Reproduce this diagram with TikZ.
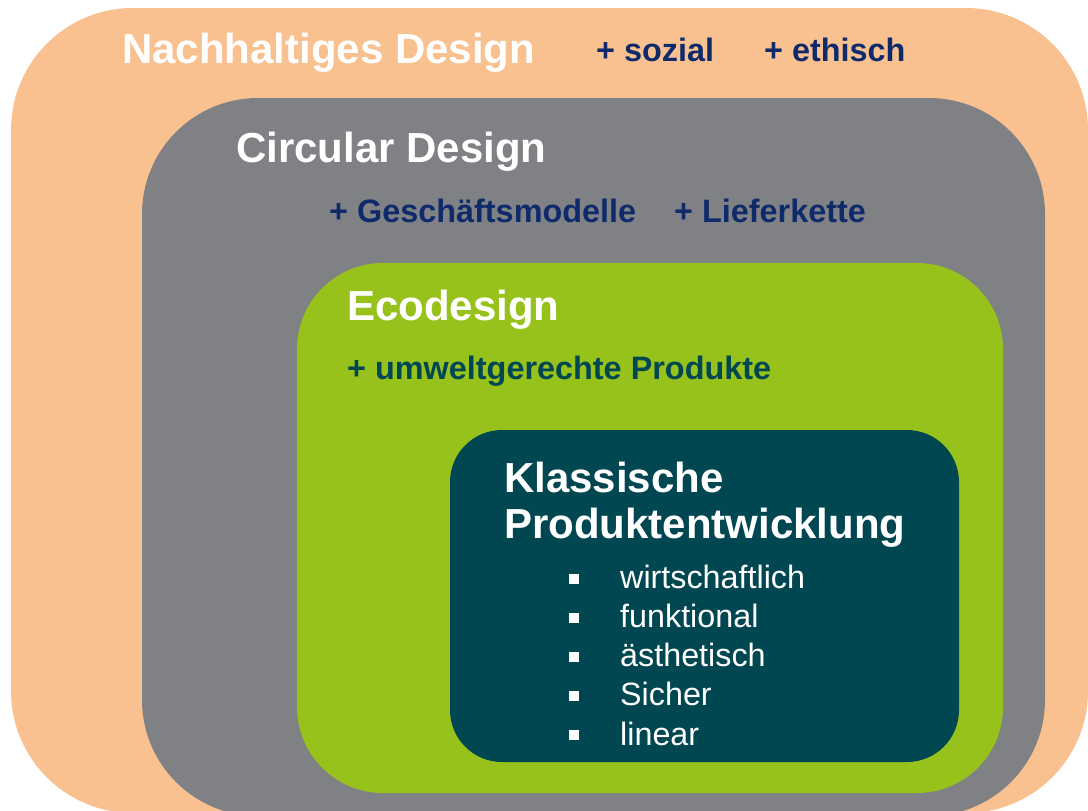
\documentclass[tikz,border=0pt]{standalone}
\usepackage{fontspec}
\setmainfont{Liberation Sans}
\definecolor{orangec}{HTML}{F9C190}
\definecolor{grayc}{HTML}{808185}
\definecolor{greenc}{HTML}{97C21C}
\definecolor{tealc}{HTML}{004752}
\definecolor{navyc}{HTML}{0E2A6B}
\tikzset{
  title/.style={anchor=base west, inner sep=0pt, text=white, font=\fontsize{42}{48}\selectfont\bfseries},
  plus/.style={anchor=base west, inner sep=0pt, text=navyc, font=\fontsize{32.4}{38}\selectfont\bfseries},
  item/.style={anchor=base west, inner sep=0pt, text=white, font=\fontsize{32.3}{38}\selectfont},
  bulletsq/.style={fill=white, inner sep=0pt, minimum size=10pt, draw=none, shape=rectangle}
}
\begin{document}
\begin{tikzpicture}[x=1pt,y=-1pt]
\useasboundingbox (0,0) rectangle (1088,811);
\begin{scope}
\clip (0,0) rectangle (1088,811);
\fill[orangec, rounded corners=122pt] (11,8) rectangle (1088,813);
\fill[grayc, rounded corners=116pt] (142,98) rectangle (1045,816);
\fill[greenc, rounded corners=86pt] (297,263) rectangle (1003,793);
\fill[tealc, rounded corners=52pt] (450,430) rectangle (959,762);
\end{scope}
\node[title] (nd) at (122,63) {Nachhaltiges Design};
\node[plus] (soz) at (596,61) {+ sozial};
\node[plus] (eth) at (764,61) {+ ethisch};
\node[title] (cd) at (236,162) {Circular Design};
\node[plus] (gm) at (329,222) {+ Geschäftsmodelle};
\node[plus] (lk) at (674,222) {+ Lieferkette};
\node[title] (eco) at (347,320) {Ecodesign};
\node[plus, text=tealc] (uwp) at (347,379) {+ umweltgerechte Produkte};
\node[title] (kl) at (504,492) {Klassische};
\node[title] (pe) at (504,538) {Produktentwicklung};
\node[bulletsq] (b1) at (573.5,578.5) {};
\node[bulletsq] (b2) at (573.5,617.5) {};
\node[bulletsq] (b3) at (573.5,656.5) {};
\node[bulletsq] (b4) at (573.5,695.5) {};
\node[bulletsq] (b5) at (573.5,734.5) {};
\node[item] (i1) at (620,588) {wirtschaftlich};
\node[item] (i2) at (620,627) {funktional};
\node[item] (i3) at (620,666) {ästhetisch};
\node[item] (i4) at (620,705) {Sicher};
\node[item] (i5) at (620,745) {linear};
\end{tikzpicture}
\end{document}
